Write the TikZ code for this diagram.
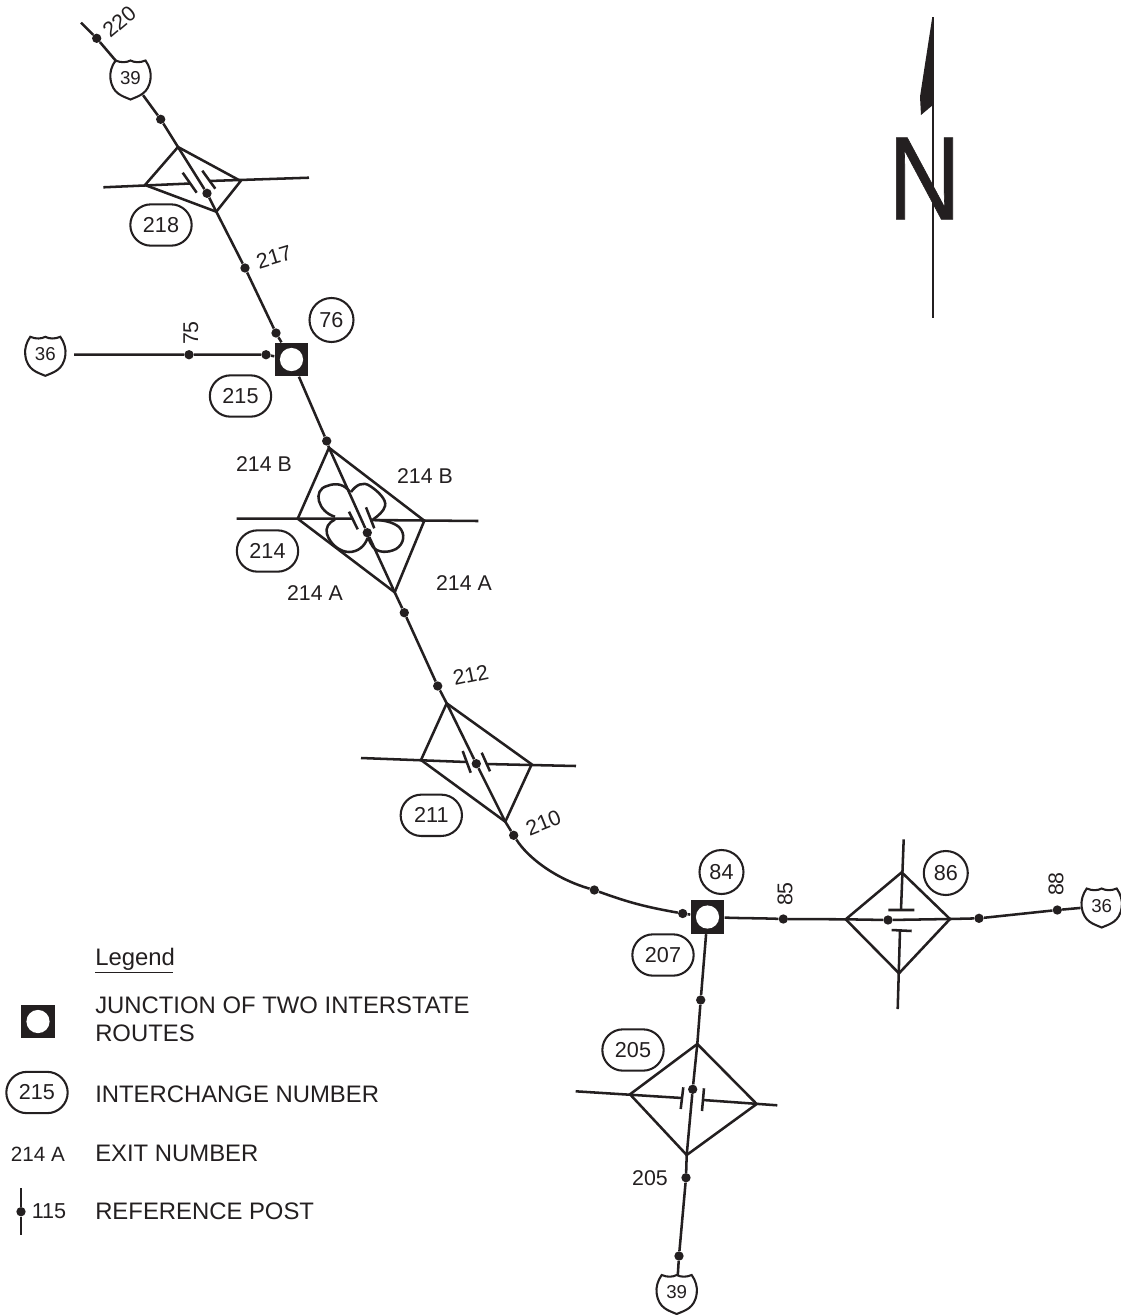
\documentclass[tikz,border=0pt]{standalone}
\usepackage{fontspec}
\setmainfont{Liberation Sans}
\newfontfamily\northfont[FakeBold=0.6]{Liberation Sans}
\usetikzlibrary{shapes.misc}
\definecolor{ink}{HTML}{231F20}
\tikzset{
  road/.style={draw=ink,line width=1.9pt,line join=miter},
  post/.style={circle,fill=ink,inner sep=0pt,minimum size=7pt},
  jct/.style={rectangle,fill=ink,inner sep=0pt,minimum size=25.4pt},
  jcthole/.style={circle,fill=white,inner sep=0pt,minimum size=17.4pt},
  interchange/.style={rounded rectangle,draw=ink,line width=1.55pt,inner sep=0pt,minimum width=46pt,minimum height=31pt,text=ink,font=\fontsize{16.2}{18}\selectfont},
  routenum/.style={circle,draw=ink,line width=1.55pt,inner sep=0pt,minimum size=33pt,text=ink,font=\fontsize{16.2}{18}\selectfont},
  shieldtext/.style={circle,inner sep=0pt,minimum size=31.5pt,text=ink,font=\fontsize{14}{16}\selectfont},
  lab/.style={inner sep=0pt,text=ink,font=\fontsize{16}{18}\selectfont},
  legendtext/.style={inner sep=0pt,anchor=base west,text=ink,align=left,font=\fontsize{17.9}{20.8}\selectfont}
}
\newcommand{\routeshield}[3]{%
  \node[shieldtext] (#1) at (#2) {#3};
  \draw[draw=ink,line width=1.55pt,shift={(#2)}] (-15,-17.5) .. controls (-9,-15) and (-4,-15.5) .. (0,-17.5) .. controls (4,-15.5) and (9,-15) .. (15,-17.5) .. controls (19,-12) and (21,-5) .. (20,1) .. controls (18,16) and (8,18) .. (0,21.5) .. controls (-8,18) and (-18,16) .. (-20,1) .. controls (-21,-5) and (-19,-12) .. (-15,-17.5) -- cycle;
}
\begin{document}
\begin{tikzpicture}[x=0.75pt,y=-0.75pt]
\useasboundingbox (0,0) rectangle (1121,1315);

\node[post] (p220) at (96.7,38.3) {};
\node[post] (p219) at (160.7,119.3) {};
\node[post] (c218) at (207,193.3) {};
\node[post] (p217) at (245,268) {};
\node[post] (p216) at (276,333) {};
\node[post] (p76) at (266,354.7) {};
\node[post] (p75) at (189,354.7) {};
\node[jct] (j76) at (291.5,359.5) {};
\node[post] (p214n) at (326.7,441) {};
\node[post] (c214) at (367.3,532.7) {};
\node[post] (p213) at (404.3,612.7) {};
\node[post] (p212) at (437.7,686) {};
\node[post] (c211) at (476.3,763.7) {};
\node[post] (p210) at (513.7,835.3) {};
\node[post] (p208) at (594.3,890) {};
\node[post] (p207) at (682.7,913.5) {};
\node[jct] (j84) at (707.5,917) {};
\node[post] (p85) at (783.3,919) {};
\node[post] (c86) at (888,920) {};
\node[post] (p87) at (979,918.3) {};
\node[post] (p88) at (1057.3,910) {};
\node[post] (p206) at (700.7,1000) {};
\node[post] (c205) at (692.7,1089.3) {};
\node[post] (p205) at (686,1177.7) {};
\node[post] (p204) at (679,1256) {};

\routeshield{s39n}{130.5,78}{39}
\routeshield{s36w}{45.3,354.3}{36}
\routeshield{s36e}{1101.7,906}{36}
\routeshield{s39s}{676.7,1292.5}{39}

\coordinate (e39n) at (81,22.7);
\coordinate (e36w) at (74,354.7);

\coordinate (n218) at (178,147);
\coordinate (e218) at (240.7,181);
\coordinate (s218) at (216.3,211.7);
\coordinate (w218) at (145,185);
\coordinate (xw218) at (103.3,187.3);
\coordinate (xe218) at (309,177.7);
\coordinate (bw218) at (190,183.5);
\coordinate (be218) at (209,181);
\coordinate (ta218) at (182.7,172.7);
\coordinate (tb218) at (196.7,192.7);
\coordinate (tc218) at (202.3,170.7);
\coordinate (td218) at (215.3,188.7);

\coordinate (n214) at (329,447.7);
\coordinate (e214) at (424.3,520.7);
\coordinate (s214) at (394.7,592.3);
\coordinate (w214) at (297.7,518.7);
\coordinate (xw214) at (236.7,518.7);
\coordinate (xe214) at (478.3,521);
\coordinate (bw214) at (353,518.7);
\coordinate (be214) at (370.5,520);
\coordinate (ta214) at (349,511.7);
\coordinate (tb214) at (357.7,529.3);
\coordinate (tc214) at (366,507.3);
\coordinate (td214) at (374.3,528.3);

\coordinate (n211) at (446.7,703.3);
\coordinate (e211) at (531.7,764.3);
\coordinate (s211) at (505.3,821.7);
\coordinate (w211) at (421,760);
\coordinate (xw211) at (361,758);
\coordinate (xe211) at (576,766);
\coordinate (bw211) at (466.7,762);
\coordinate (be211) at (486,764);
\coordinate (ta211) at (462.7,751);
\coordinate (tb211) at (470.7,772.7);
\coordinate (tc211) at (481.7,752.7);
\coordinate (td211) at (490,771.3);

\coordinate (n86) at (901.7,872.3);
\coordinate (e86) at (950,919);
\coordinate (s86) at (899,973.3);
\coordinate (w86) at (845.7,919.3);
\coordinate (xn86) at (903.7,839.3);
\coordinate (xs86) at (897.7,1009);
\coordinate (bn86) at (901,910);
\coordinate (bs86) at (900,930.5);
\coordinate (ta86) at (888.3,910);
\coordinate (tb86) at (914.3,910);
\coordinate (tc86) at (891.7,930);
\coordinate (td86) at (911.7,931);

\coordinate (n205) at (697.3,1044);
\coordinate (e205) at (756.7,1104);
\coordinate (s205) at (686.7,1155);
\coordinate (w205) at (630,1094.3);
\coordinate (xw205) at (575.7,1091.3);
\coordinate (xe205) at (777.3,1105.3);
\coordinate (bw205) at (682,1098);
\coordinate (be205) at (703,1100);
\coordinate (ta205) at (683.3,1087.3);
\coordinate (tb205) at (680.7,1109);
\coordinate (tc205) at (704,1088.3);
\coordinate (td205) at (702,1111);

\draw[road] (e39n) -- (p220) -- (s39n) -- (p219) -- (n218) -- (c218) -- (s218) -- (p217) -- (p216) -- (j76) -- (p214n) -- (n214) -- (c214) -- (s214) -- (p213) -- (p212) -- (n211) -- (c211) -- (s211) -- (p210);
\draw[road] (p210) .. controls (528,858) and (556,879) .. (p208) to [out=-20,in=170] (p207) -- (j84);
\draw[road] (e36w) -- (p75) -- (p76) -- (j76);
\draw[road] (j84) to [out=-2,in=178] (p85) -- (w86) -- (c86) -- (e86) -- (p87) -- (p88) -- (s36e);
\draw[road] (j84) -- (p206) -- (n205) -- (c205) -- (s205) -- (p205) -- (p204);
\draw[road,shorten >=-2.6pt] (p204) -- (s39s);

\draw[road] (n218) -- (e218) -- (s218) -- (w218) -- cycle;
\draw[road] (xw218) -- (bw218) (be218) -- (xe218);
\draw[road] (ta218) -- (tb218) (tc218) -- (td218);

\draw[road] (n214) -- (e214) -- (s214) -- (w214) -- cycle;
\draw[road] (xw214) -- (bw214) (be214) -- (xe214);
\draw[road] (ta214) -- (tb214) (tc214) -- (td214);
\draw[road] (335,516.7) .. controls (318,512) and (312,490) .. (327,486) .. controls (337,482) and (345,485) .. (350,492);
\draw[road] (351,492) .. controls (356,485) and (363,481) .. (370,486) .. controls (378,491) and (387,500) .. (385,506) .. controls (384,511) and (378,516) .. (373,519.5);
\draw[road] (375,520) .. controls (383,520) and (393,522) .. (399,527) .. controls (406,534) and (404,544) .. (396,549) .. controls (388,553) and (378,553) .. (373,547) .. controls (371,544) and (369,541) .. (368.5,537);
\draw[road] (335,519.5) .. controls (329,522) and (325,528) .. (327,534) .. controls (330,544) and (340,552) .. (349,552) .. controls (358,552) and (365,546) .. (367.5,538);

\draw[road] (n211) -- (e211) -- (s211) -- (w211) -- cycle;
\draw[road] (xw211) -- (bw211) (be211) -- (xe211);
\draw[road] (ta211) -- (tb211) (tc211) -- (td211);

\draw[road] (n86) -- (e86) -- (s86) -- (w86) -- cycle;
\draw[road] (xn86) -- (bn86) (bs86) -- (xs86);
\draw[road] (ta86) -- (tb86) (tc86) -- (td86);

\draw[road] (n205) -- (e205) -- (s205) -- (w205) -- cycle;
\draw[road] (xw205) -- (bw205) (be205) -- (xe205);
\draw[road] (ta205) -- (tb205) (tc205) -- (td205);

\node[jcthole] (h76) at (j76) {};
\node[jcthole] (h84) at (j84) {};

\node[interchange] (i218) at (161,225) {218};
\node[interchange] (i215) at (240.5,396) {215};
\node[interchange] (i214) at (267.5,551) {214};
\node[interchange] (i211) at (431.3,815.3) {211};
\node[interchange] (i207) at (663,955) {207};
\node[interchange] (i205) at (633,1050) {205};
\node[routenum] (r76) at (331.5,320) {76};
\node[routenum] (r84) at (721.5,872) {84};
\node[routenum] (r86) at (945.8,873) {86};

\node[lab,rotate=40] (l220) at (119.3,21.7) {220};
\node[lab,rotate=17] (l217) at (274,257) {217};
\node[lab,rotate=90] (l75) at (191,333) {75};
\node[lab] (l214a) at (264,464) {214 B};
\node[lab] (l214b) at (425,476) {214 B};
\node[lab] (l214c) at (315,593) {214 A};
\node[lab] (l214d) at (464,583) {214 A};
\node[lab,rotate=12] (l212) at (470.7,675) {212};
\node[lab,rotate=22] (l210) at (543.3,822.7) {210};
\node[lab,rotate=90] (l85) at (785,894) {85};
\node[lab,rotate=90] (l88) at (1056,884) {88};
\node[lab] (l205) at (650,1178) {205};

\node[inner sep=0pt,text=ink,font=\northfont\fontsize{89}{89}\selectfont] (northN) at (924.5,178.5) {\scalebox{0.85}[1]{N}};
\coordinate (nt) at (933.3,17);
\coordinate (nb) at (933.3,318);
\draw[draw=ink,line width=1.7pt] (nt) -- (nb);
\fill[ink] (932.3,17) -- (920,96.7) -- (921,115) -- (931.7,106) -- (933.9,106) -- (933.9,17) -- cycle;

\node[legendtext] (legtitle) at (95,965) {Legend};
\coordinate (lega) at (95,972.7);
\coordinate (legb) at (173,972.7);
\draw[draw=ink,line width=1.05pt] (lega) -- (legb);
\node[jct] (legj) at (38,1021.5) {};
\node[jcthole] (legh) at (legj) {};
\node[legendtext] (legjt) at (95,1041.7) {JUNCTION OF TWO INTERSTATE\\ROUTES};
\node[interchange] (legi) at (37,1092.5) {215};
\node[legendtext] (legit) at (95,1102.3) {INTERCHANGE NUMBER};
\node[lab,font=\fontsize{15.5}{18}\selectfont] (lege) at (38,1154) {214 A};
\node[legendtext] (leget) at (95,1161.7) {EXIT NUMBER};
\coordinate (legpa) at (21,1188);
\coordinate (legpb) at (21,1235);
\node[post] (legp) at (21,1211.7) {};
\draw[road] (legpa) -- (legp) -- (legpb);
\node[lab,font=\fontsize{16.2}{18}\selectfont] (legn) at (49,1211) {115};
\node[legendtext] (legpt) at (95,1219.3) {REFERENCE POST};
\end{tikzpicture}
\end{document}
